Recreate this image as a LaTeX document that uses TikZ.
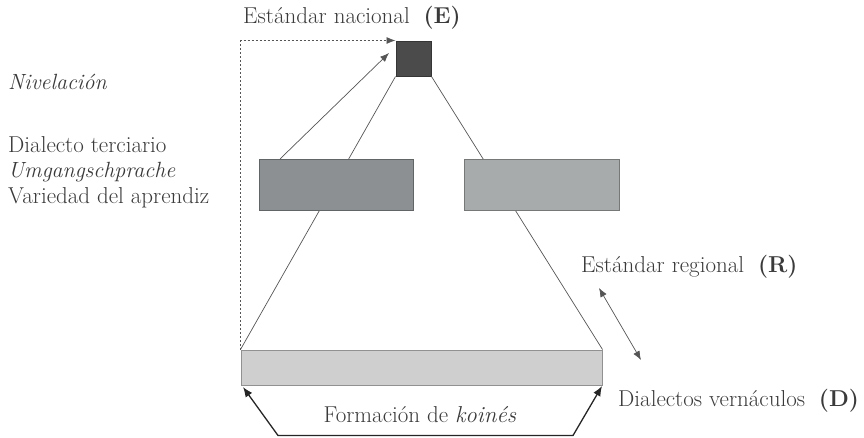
\documentclass[tikz,border=0pt]{standalone}
\usetikzlibrary{arrows.meta}
\definecolor{txt}{HTML}{3A3A3A}
\definecolor{ln}{HTML}{555555}
\definecolor{boxE}{HTML}{4B4B4B}
\definecolor{boxL}{HTML}{8C9092}
\definecolor{boxR}{HTML}{A8ABAC}
\definecolor{boxD}{HTML}{CFCFCF}
\begin{document}
\begin{tikzpicture}[x=1pt,y=-1pt,
  lbl/.style={text=txt,font=\fontsize{23}{26}\selectfont,inner sep=0pt,anchor=base west},
  itlbl/.style={lbl,font=\fontsize{22}{26}\selectfont\itshape},
  blk/.style={draw=#1!70!black,line width=1pt,inner sep=0pt,rectangle},
  thin/.style={draw=ln,line width=0.7pt},
  tip/.style={-{Latex[length=9pt,width=7pt]}}
]
\useasboundingbox (0,0) rectangle (864,437);
\node[blk=boxE,fill=boxE,minimum width=35pt,minimum height=35pt] (E) at (413.5,58.5) {};
\node[blk=boxD,fill=boxD,minimum width=361pt,minimum height=35pt] (D) at (421.5,367.5) {};
\draw[thin] (E.south west) -- (D.north west);
\draw[thin] (E.south east) -- (D.north east);
\node[blk=boxL,fill=boxL,minimum width=154pt,minimum height=51pt] (L) at (336,184.5) {};
\node[blk=boxR,fill=boxR,minimum width=155pt,minimum height=51pt] (R) at (541.5,184.5) {};
\coordinate (a1) at (280,159);
\coordinate (a2) at (389,53);
\draw[thin,tip] (a1) -- (a2);
\draw[draw=ln,line width=0.8pt,dash pattern=on 2pt off 2pt,tip] (D.north west) |- (E.north west);
\coordinate (r1) at (599,288);
\coordinate (r2) at (641,360);
\draw[thin,{Latex[length=9pt,width=7pt]}-{Latex[length=9pt,width=7pt]}] (r1) -- (r2);
\coordinate (k1) at (243,387);
\coordinate (k2) at (278,435.5);
\coordinate (k3) at (573,435.5);
\coordinate (k4) at (602,386);
\draw[draw=black!85,line width=1.3pt,{Latex[length=10pt,width=8pt]}-{Latex[length=10pt,width=8pt]}] (k1) -- (k2) -- (k3) -- (k4);
\node[lbl] (tE) at (243,23) {Estándar nacional\ \ \textbf{(E)}};
\node[itlbl] (tN) at (8,89) {Nivelación};
\node[lbl] (t1) at (8,152) {Dialecto terciario};
\node[itlbl] (t2) at (8,177) {Umgangschprache};
\node[lbl] (t3) at (8,203) {Variedad del aprendiz};
\node[lbl] (tR) at (581,272) {Estándar regional\ \ \textbf{(R)}};
\node[lbl] (tD) at (618,406) {Dialectos vernáculos\ \ \textbf{(D)}};
\node[lbl,anchor=base] (tK) at (420,422) {Formación de \textit{koinés}};
\end{tikzpicture}
\end{document}
